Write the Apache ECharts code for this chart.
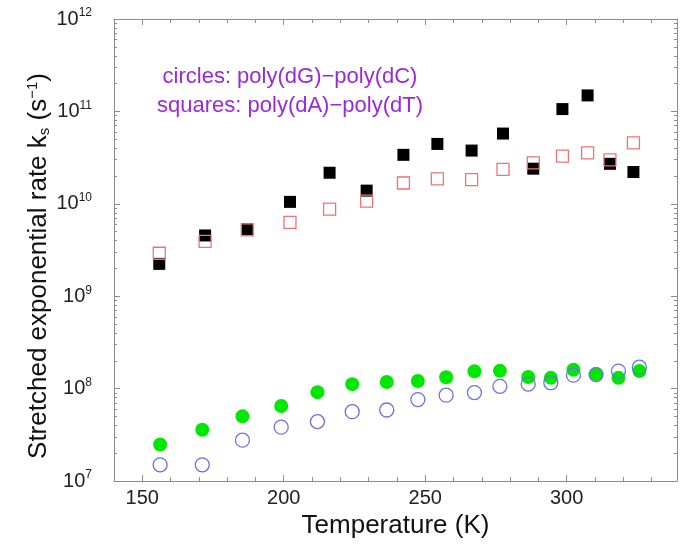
<!DOCTYPE html>
<html>
<head>
<meta charset="utf-8">
<script src="https://cdn.jsdelivr.net/npm/echarts@6/dist/echarts.min.js"></script>
<style>
  html, body { margin: 0; padding: 0; background: #fff; }
  #chart { width: 680px; height: 544px; }
</style>
</head>
<body>
<div id="chart"></div>
<script>
// squares: poly(dA)-poly(dT)
const squareTemps = [156, 172.2, 187.1, 202.2, 216.2, 229.3, 242.3, 254.3, 266.4, 277.5, 288.2, 298.5, 307.4, 315.3, 323.6];
const filledSquareRates = [2.24e9, 4.55e9, 5.31e9, 1.05e10, 2.17e10, 1.39e10, 3.39e10, 4.45e10, 3.77e10, 5.76e10, 2.4e10, 1.06e11, 1.49e11, 2.71e10, 2.21e10];
const openSquareRates = [2.92e9, 3.92e9, 5.22e9, 6.31e9, 8.77e9, 1.07e10, 1.68e10, 1.86e10, 1.83e10, 2.36e10, 2.78e10, 3.28e10, 3.56e10, 2.99e10, 4.56e10];

// circles: poly(dG)-poly(dC)
const circleTemps = [156.3, 171.2, 185.4, 199.1, 211.9, 224.2, 236.4, 247.4, 257.4, 267.4, 276.4, 286.4, 294.4, 302.4, 310.4, 318.3, 325.7];
const filledCircleRates = [2.49e7, 3.59e7, 5.02e7, 6.49e7, 9.17e7, 1.12e8, 1.18e8, 1.21e8, 1.33e8, 1.54e8, 1.56e8, 1.34e8, 1.31e8, 1.6e8, 1.44e8, 1.31e8, 1.55e8];
const openCircleRates = [1.5e7, 1.5e7, 2.77e7, 3.83e7, 4.4e7, 5.64e7, 5.88e7, 7.63e7, 8.51e7, 9.08e7, 1.06e8, 1.12e8, 1.16e8, 1.4e8, 1.42e8, 1.55e8, 1.71e8];

const xMajorTicks = [150, 200, 250, 300];
const xMinorTicks = [160, 170, 180, 190, 210, 220, 230, 240, 260, 270, 280, 290, 310, 320, 330];

// minor ticks of the log axis, in log10 units
const yMinorTicks = [];
for (let n = 7; n < 12; n++) {
  for (let k = 2; k <= 9; k++) yMinorTicks.push(n + Math.log10(k));
}

const FONT = 'Liberation Sans, Arial, sans-serif';
const axisGrey = '#8c8c8c';

const pairs = (xs, ys) => xs.map((x, i) => [x, ys[i]]);

const chart = echarts.init(document.getElementById('chart'));

const xAxisBase = {
  type: 'value',
  min: 140,
  max: 339,
  splitLine: { show: false },
  axisLine: { show: false, onZero: false },
  axisLabel: { show: false },
};

const tickAxis = (extra, values, length) => ({
  ...xAxisBase,
  ...extra,
  axisTick: {
    show: true,
    inside: true,
    length,
    customValues: values,
    lineStyle: { color: axisGrey },
  },
});

const option = {
  animation: false,
  grid: { left: 114, top: 19, width: 563, height: 467 },
  xAxis: [
    {
      ...tickAxis({ position: 'bottom' }, xMajorTicks, 6),
      axisLine: { show: true, onZero: false, lineStyle: { color: axisGrey, width: 1 } },
      axisLabel: {
        show: true,
        customValues: xMajorTicks,
        margin: 7,
        color: '#222',
        fontSize: 20,
        fontFamily: FONT,
      },
      name: 'Temperature (K)',
      nameLocation: 'middle',
      nameGap: 22,
      nameTextStyle: { fontSize: 26, color: '#111', fontFamily: FONT },
    },
    tickAxis({ position: 'bottom' }, xMinorTicks, 4),
    {
      ...tickAxis({ position: 'top' }, xMajorTicks, 6),
      axisLine: { show: true, onZero: false, lineStyle: { color: axisGrey, width: 1 } },
    },
    tickAxis({ position: 'top' }, xMinorTicks, 4),
  ],
  yAxis: [
    {
      type: 'log',
      logBase: 10,
      min: 1e7,
      max: 1e12,
      position: 'left',
      splitLine: { show: false },
      axisLine: { show: true, onZero: false, lineStyle: { color: axisGrey, width: 1 } },
      axisTick: { show: true, inside: true, length: 6, lineStyle: { color: axisGrey } },
      axisLabel: {
        margin: 22,
        color: '#222',
        fontFamily: FONT,
        formatter: (v) => '{b|10}{e|' + Math.round(Math.log10(v)) + '}',
        rich: {
          b: { fontSize: 20, fontFamily: FONT, color: '#222' },
          e: { fontSize: 12, fontFamily: FONT, color: '#222', padding: [0, 0, 12, 0] },
        },
      },
    },
    {
      type: 'value',
      min: 7,
      max: 12,
      position: 'left',
      splitLine: { show: false },
      axisLine: { show: false, onZero: false },
      axisLabel: { show: false },
      axisTick: { show: true, inside: true, length: 3, customValues: yMinorTicks, lineStyle: { color: axisGrey } },
    },
    {
      type: 'log',
      logBase: 10,
      min: 1e7,
      max: 1e12,
      position: 'right',
      splitLine: { show: false },
      axisLine: { show: true, onZero: false, lineStyle: { color: axisGrey, width: 1 } },
      axisTick: { show: true, inside: true, length: 6, lineStyle: { color: axisGrey } },
      axisLabel: { show: false },
    },
    {
      type: 'value',
      min: 7,
      max: 12,
      position: 'right',
      splitLine: { show: false },
      axisLine: { show: false, onZero: false },
      axisLabel: { show: false },
      axisTick: { show: true, inside: true, length: 3, customValues: yMinorTicks, lineStyle: { color: axisGrey } },
    },
  ],
  series: [
    {
      name: 'poly(dA)-poly(dT) filled',
      type: 'scatter',
      symbol: 'rect',
      symbolSize: 12,
      itemStyle: { color: '#000', opacity: 1 },
      data: pairs(squareTemps, filledSquareRates),
    },
    {
      name: 'poly(dA)-poly(dT) open',
      type: 'scatter',
      symbol: 'rect',
      symbolSize: 12,
      itemStyle: { color: 'rgba(0,0,0,0)', borderColor: '#ee7373', borderWidth: 1.3, opacity: 1 },
      data: pairs(squareTemps, openSquareRates),
    },
    {
      name: 'poly(dG)-poly(dC) filled',
      type: 'scatter',
      symbol: 'circle',
      symbolSize: 14,
      itemStyle: { color: '#00e800', opacity: 1 },
      data: pairs(circleTemps, filledCircleRates),
    },
    {
      name: 'poly(dG)-poly(dC) open',
      type: 'scatter',
      symbol: 'circle',
      symbolSize: 14,
      itemStyle: { color: 'rgba(0,0,0,0)', borderColor: '#6e6ee8', borderWidth: 1.3, opacity: 1 },
      data: pairs(circleTemps, openCircleRates),
    },
  ],
  graphic: [
    {
      type: 'text',
      x: 290,
      y: 77,
      style: {
        text: 'circles: poly(dG)\u2212poly(dC)',
        fill: '#9a2ad8',
        font: '22px ' + FONT,
        align: 'center',
        verticalAlign: 'middle',
      },
    },
    {
      type: 'text',
      x: 290,
      y: 106,
      style: {
        text: 'squares: poly(dA)\u2212poly(dT)',
        fill: '#9a2ad8',
        font: '22px ' + FONT,
        align: 'center',
        verticalAlign: 'middle',
      },
    },
    {
      type: 'text',
      x: 39,
      y: 266,
      rotation: Math.PI / 2,
      style: {
        text: 'Stretched exponential rate k{sub|s} (s{sup|\u22121})',
        fill: '#111',
        font: '26px ' + FONT,
        align: 'center',
        verticalAlign: 'middle',
        rich: {
          sub: { fontSize: 15, fontFamily: FONT, fill: '#111', padding: [12, 0, 0, 0] },
          sup: { fontSize: 15, fontFamily: FONT, fill: '#111', padding: [0, 0, 12, 0] },
        },
      },
    },
  ],
};

chart.setOption(option);
</script>
</body>
</html>
